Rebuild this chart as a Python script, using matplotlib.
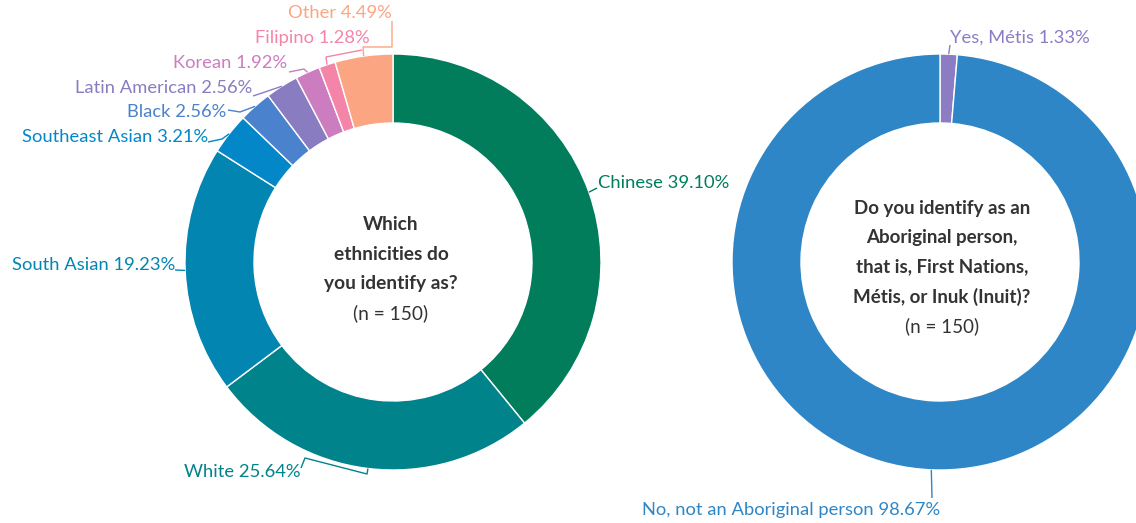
import numpy as np
import matplotlib
matplotlib.use("Agg")
import matplotlib.pyplot as plt

plt.rcParams["font.family"] = ["Lato", "DejaVu Sans"]

W, H = 1136, 523

# ethnicity breakdown, clockwise from 12 o'clock
eth_labels = ["Chinese", "White", "South Asian", "Southeast Asian", "Black",
              "Latin American", "Korean", "Filipino", "Other"]
eth_values = [39.10, 25.64, 19.23, 3.21, 2.56, 2.56, 1.92, 1.28, 4.49]
eth_colors = ["#017d5c", "#00838b", "#0385b2", "#0387c9", "#4a82cd",
              "#8a7cc1", "#cc7dbf", "#f585a8", "#fca582"]

# aboriginal identity
abo_labels = ["Yes, Métis", "No, not an Aboriginal person"]
abo_values = [1.33, 98.67]
abo_colors = ["#8c7cc4", "#2f86c7"]

R, R_IN = 208, 139
TEXT = "#333333"


def Y(y):
    # pixel rows are measured from the top
    return H - y


def mid_point(values, i, cx, cy, r=R):
    start = sum(values[:i])
    ang = np.deg2rad((start + values[i] / 2) / 100 * 360)
    return cx + r * np.sin(ang), Y(cy) + r * np.cos(ang)


def donut(ax, values, colors, cx, cy):
    ax.pie(values, colors=colors, startangle=90, counterclock=False,
           radius=R, center=(cx, Y(cy)),
           wedgeprops=dict(width=R - R_IN, edgecolor="white", linewidth=1))


def label(ax, values, i, cx, cy, text, color, tx, ty, ha, elbows):
    x0, y0 = mid_point(values, i, cx, cy)
    xs = [x0] + [p[0] for p in elbows]
    ys = [y0] + [Y(p[1]) for p in elbows]
    ax.plot(xs, ys, color=color, linewidth=1, solid_capstyle="butt")
    ax.text(tx, Y(ty), text, ha=ha, va="center", fontsize=13.2, color=color)


fig = plt.figure(figsize=(W / 100, H / 100), dpi=100)
ax = fig.add_axes([0, 0, 1, 1])

# left donut
LX, LY = 393, 262
donut(ax, eth_values, eth_colors, LX, LY)
eth_layout = [
    (598, 183, "left", [(597, 188)]),
    (300, 472, "right", [(367, 474), (305, 458), (301, 468)]),
    (175, 265, "right", [(175, 270)]),
    (208, 137, "right", [(222, 139), (208, 142)]),
    (226, 112, "right", [(240, 112), (228, 110)]),
    (252, 88, "right", [(265, 92), (253, 96)]),
    (287, 63, "right", [(304, 69), (289, 72)]),
    (370, 38, "right", [(326, 57), (362, 50)]),
    (392, 13, "right", [(363, 47), (392, 47), (392, 21)]),
]
for i, (tx, ty, ha, el) in enumerate(eth_layout):
    txt = f"{eth_labels[i]} {eth_values[i]:.2f}%"
    label(ax, eth_values, i, LX, LY, txt, eth_colors[i], tx, ty, ha, el)

ax.text(LX - 2, Y(254), "Which\nethnicities do\nyou identify as?",
        ha="center", va="center", fontsize=13.8, fontweight="bold",
        color=TEXT, linespacing=1.86)
ax.text(LX - 2, Y(313), "(n = 150)", ha="center", va="center",
        fontsize=13.8, color=TEXT)

# right donut
RX, RY = 940, 262
donut(ax, abo_values, abo_colors, RX, RY)
abo_layout = [
    (950, 38, "left", [(950, 45)]),
    (940, 510, "right", [(932, 498)]),
]
for i, (tx, ty, ha, el) in enumerate(abo_layout):
    txt = f"{abo_labels[i]} {abo_values[i]:.2f}%"
    label(ax, abo_values, i, RX, RY, txt, abo_colors[i], tx, ty, ha, el)

ax.text(RX + 2, Y(253), "Do you identify as an\nAboriginal person,\n"
        "that is, First Nations,\nMétis, or Inuk (Inuit)?",
        ha="center", va="center", fontsize=13.5, fontweight="bold",
        color=TEXT, linespacing=1.84)
ax.text(RX + 2, Y(326), "(n = 150)", ha="center", va="center",
        fontsize=13.5, color=TEXT)

ax.set_xlim(0, W)
ax.set_ylim(0, H)
ax.set_aspect("equal")
ax.axis("off")

fig.savefig("out.png", dpi=100, facecolor="white")
